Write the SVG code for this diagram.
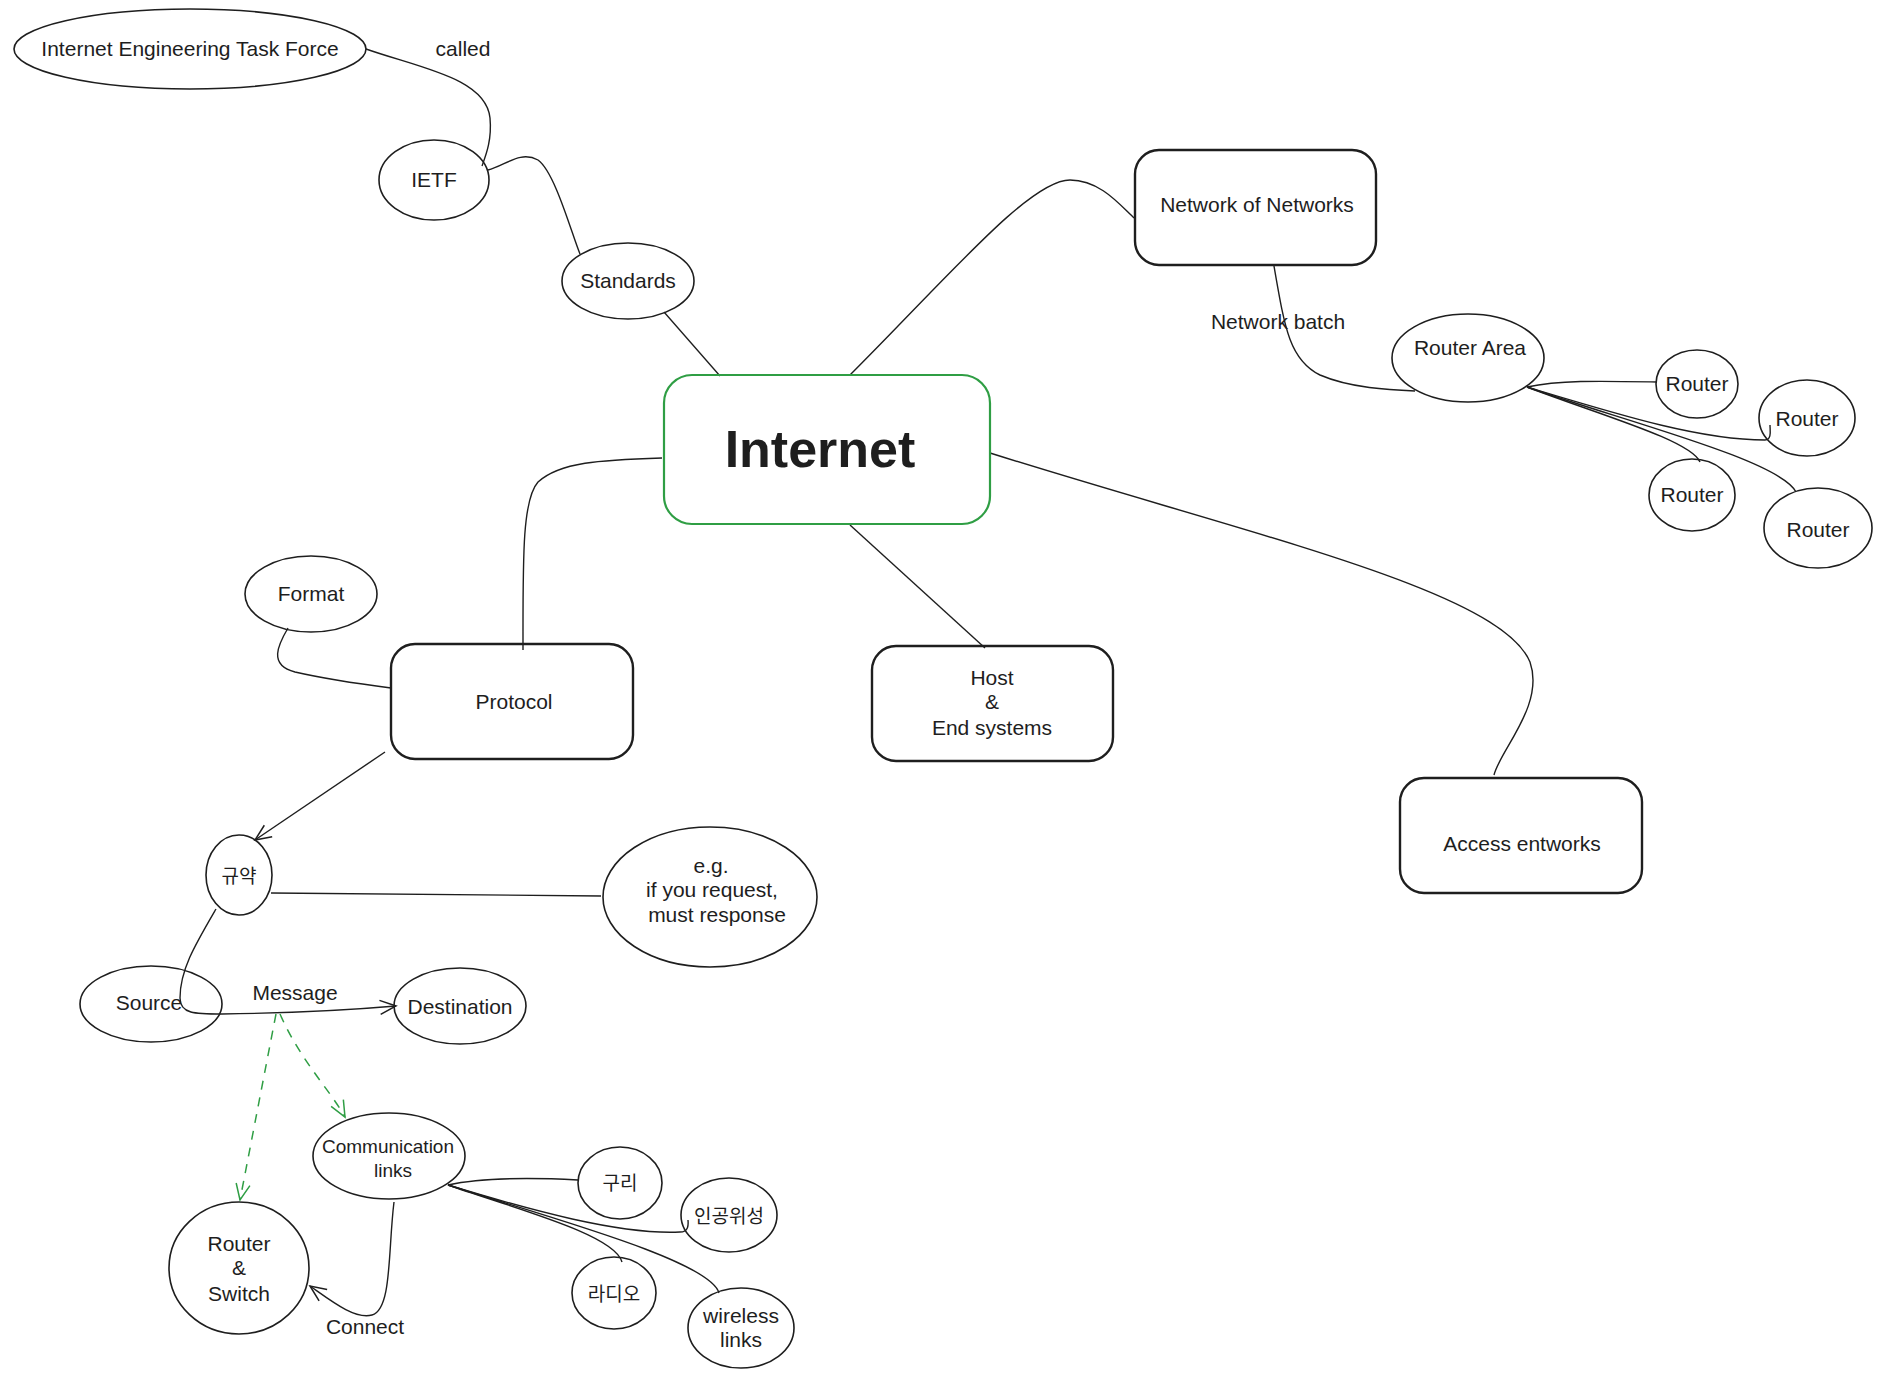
<svg xmlns="http://www.w3.org/2000/svg" width="1883" height="1377" viewBox="0 0 1883 1377">
<defs>
<style>
.n{fill:none;stroke:#1e1e1e;stroke-width:1.6}
.b{fill:none;stroke:#1e1e1e;stroke-width:2.4}
.g{fill:none;stroke:#2f9e44;stroke-width:2.2}
.c{fill:none;stroke:#1e1e1e;stroke-width:1.4}
.d{fill:none;stroke:#2f9e44;stroke-width:1.5;stroke-dasharray:9 8}
text{font-family:"Liberation Sans","Noto Sans CJK KR",sans-serif;fill:#1e1e1e;font-size:21px;text-anchor:middle;dominant-baseline:central}
.k{font-family:"Noto Sans CJK KR","Liberation Sans",sans-serif;font-size:19px}
.s{font-size:19px}
</style>
<marker id="ab" viewBox="0 0 20 20" refX="18" refY="10" markerWidth="20" markerHeight="20" markerUnits="userSpaceOnUse" orient="auto">
<path d="M2,3 L18,10 L2,17" fill="none" stroke="#1e1e1e" stroke-width="1.5"/>
</marker>
<marker id="ag" viewBox="0 0 20 20" refX="18" refY="10" markerWidth="20" markerHeight="20" markerUnits="userSpaceOnUse" orient="auto">
<path d="M2,3 L18,10 L2,17" fill="none" stroke="#2f9e44" stroke-width="1.5"/>
</marker>
</defs>
<rect width="1883" height="1377" fill="#ffffff"/>
<g id="connectors">
<path class="c" d="M366,49 C420,68 486,78 490,118 C492,140 486,155 482,166"/>
<path class="c" d="M488,170 C505,166 520,150 538,160 C555,172 572,235 580,254"/>
<path class="c" d="M664,312 L720,376"/>
<path class="c" d="M850,375 C950,275 1030,180 1070,180 C1100,180 1120,205 1134,218"/>
<path class="c" d="M662,458 C600,460 560,462 538,482 C522,500 523,560 523,650"/>
<path class="c" d="M850,525 L985,648"/>
<path class="c" d="M990,453 C1250,535 1500,590 1530,662 C1545,705 1500,750 1494,775"/>
<path class="c" d="M1274,266 C1285,330 1290,360 1320,375 C1350,388 1390,390 1415,391"/>
<path class="c" d="M1527,387 C1560,380 1600,381 1657,382"/>
<path class="c" d="M1527,387 C1620,415 1700,440 1765,440 C1772,440 1770,430 1770,425"/>
<path class="c" d="M1527,387 C1600,415 1690,440 1700,462"/>
<path class="c" d="M1527,387 C1620,420 1780,460 1796,492"/>
<path class="c" d="M288,628 C278,645 268,665 295,672 C330,680 360,684 391,688"/>
<path class="c" d="M385,752 L255,840" marker-end="url(#ab)"/>
<path class="c" d="M271,893 L601,896"/>
<path class="c" d="M216,909 C195,945 180,970 180,998 C180,1014 195,1014 222,1014 C300,1013 350,1010 396,1006" marker-end="url(#ab)"/>
<path class="d" d="M276,1014 L240,1200" marker-end="url(#ag)"/>
<path class="d" d="M280,1014 C300,1060 330,1090 345,1117" marker-end="url(#ag)"/>
<path class="c" d="M394,1202 C388,1250 392,1310 372,1315 C355,1320 330,1300 310,1286" marker-end="url(#ab)"/>
<path class="c" d="M448,1185 C480,1178 520,1177 578,1180"/>
<path class="c" d="M448,1185 C530,1210 620,1235 680,1232 C690,1232 688,1222 688,1220"/>
<path class="c" d="M448,1185 C520,1210 615,1235 622,1262"/>
<path class="c" d="M448,1185 C540,1215 710,1260 719,1293"/>
<text x="463" y="48">called</text>
<text x="1278" y="321">Network batch</text>
<text x="295" y="992">Message</text>
<text x="365" y="1326">Connect</text>
</g>
<g id="ietf-full"><ellipse class="n" cx="190" cy="49" rx="176" ry="40"/><text x="190" y="48">Internet Engineering Task Force</text></g>
<g id="ietf"><ellipse class="n" cx="434" cy="180" rx="55" ry="40"/><text x="434" y="179">IETF</text></g>
<g id="standards"><ellipse class="n" cx="628" cy="281" rx="66" ry="38"/><text x="628" y="280">Standards</text></g>
<g id="internet"><rect class="g" x="664" y="375" width="326" height="149" rx="28"/><text x="820" y="449" style="font-size:52px;font-weight:bold">Internet</text></g>
<g id="network-of-networks"><rect class="b" x="1135" y="150" width="241" height="115" rx="24"/><text x="1257" y="204">Network of Networks</text></g>
<g id="router-area"><ellipse class="n" cx="1468" cy="358" rx="76" ry="44"/><text x="1470" y="347">Router Area</text></g>
<g id="router1"><ellipse class="n" cx="1697" cy="384" rx="41" ry="34"/><text x="1697" y="383">Router</text></g>
<g id="router2"><ellipse class="n" cx="1807" cy="418" rx="48" ry="38"/><text x="1807" y="418">Router</text></g>
<g id="router3"><ellipse class="n" cx="1692" cy="495" rx="43" ry="36"/><text x="1692" y="494">Router</text></g>
<g id="router4"><ellipse class="n" cx="1818" cy="528" rx="54" ry="40"/><text x="1818" y="529">Router</text></g>
<g id="protocol"><rect class="b" x="391" y="644" width="242" height="115" rx="24"/><text x="514" y="701">Protocol</text></g>
<g id="host"><rect class="b" x="872" y="646" width="241" height="115" rx="24"/><text x="992" y="677">Host</text><text x="992" y="701">&amp;</text><text x="992" y="727">End systems</text></g>
<g id="access"><rect class="b" x="1400" y="778" width="242" height="115" rx="24"/><text x="1522" y="843">Access entworks</text></g>
<g id="format"><ellipse class="n" cx="311" cy="594" rx="66" ry="38"/><text x="311" y="593">Format</text></g>
<g id="rule"><ellipse class="n" cx="239" cy="875" rx="33" ry="40"/><text class="k" x="239" y="874">규약</text></g>
<g id="example"><ellipse class="n" cx="710" cy="897" rx="107" ry="70"/><text x="711" y="865">e.g.</text><text x="712" y="889">if you request,</text><text x="717" y="914">must response</text></g>
<g id="source"><ellipse class="n" cx="151" cy="1004" rx="71" ry="38"/><text x="149" y="1002">Source</text></g>
<g id="destination"><ellipse class="n" cx="460" cy="1006" rx="66" ry="38"/><text x="460" y="1006">Destination</text></g>
<g id="comm-links"><ellipse class="n" cx="389" cy="1156" rx="76" ry="43"/><text class="s" x="388" y="1146">Communication</text><text class="s" x="393" y="1170">links</text></g>
<g id="router-switch"><ellipse class="n" cx="239" cy="1268" rx="70" ry="66"/><text x="239" y="1243">Router</text><text x="239" y="1267">&amp;</text><text x="239" y="1293">Switch</text></g>
<g id="copper"><ellipse class="n" cx="620" cy="1183" rx="42" ry="36"/><text class="k" x="620" y="1181">구리</text></g>
<g id="satellite"><ellipse class="n" cx="729" cy="1215" rx="48" ry="37"/><text class="k" x="729" y="1214">인공위성</text></g>
<g id="radio"><ellipse class="n" cx="614" cy="1293" rx="42" ry="36"/><text class="k" x="614" y="1292">라디오</text></g>
<g id="wireless"><ellipse class="n" cx="741" cy="1328" rx="53" ry="40"/><text x="741" y="1315">wireless</text><text x="741" y="1339">links</text></g>
</svg>
